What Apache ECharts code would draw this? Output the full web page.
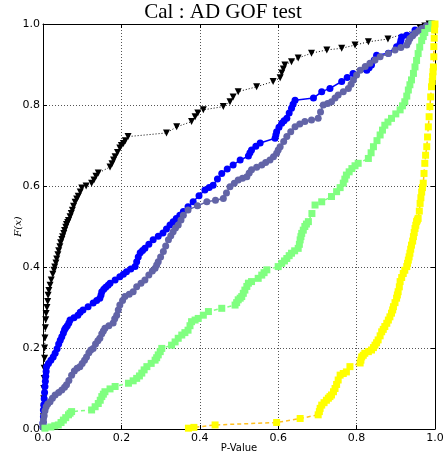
<!DOCTYPE html>
<html><head><meta charset="utf-8">
<script src="https://cdn.jsdelivr.net/npm/echarts@6/dist/echarts.min.js"></script>
<style>html,body{margin:0;padding:0;background:#fff}#c{width:446px;height:454px}</style>
</head><body><div id="c"></div>
<script>
var ticks = [0.0, 0.2, 0.4, 0.6, 0.8, 1.0];
var blackX = [0.000,0.001,0.001,0.002,0.002,0.002,0.003,0.003,0.004,0.004,0.005,0.006,0.007,0.008,0.010,0.012,0.013,0.015,0.018,0.021,0.025,0.028,0.030,0.033,0.035,0.038,0.040,0.043,0.045,0.048,0.050,0.053,0.055,0.058,0.060,0.063,0.065,0.069,0.072,0.075,0.078,0.082,0.086,0.090,0.095,0.099,0.110,0.124,0.130,0.135,0.141,0.171,0.176,0.180,0.184,0.190,0.196,0.200,0.205,0.210,0.217,0.315,0.341,0.379,0.388,0.395,0.409,0.460,0.477,0.485,0.498,0.545,0.587,0.605,0.609,0.613,0.617,0.634,0.651,0.685,0.724,0.762,0.796,0.830,0.880,0.962,0.974,0.985];
var blackY = [0.003,0.010,0.030,0.050,0.075,0.100,0.125,0.150,0.175,0.200,0.225,0.250,0.270,0.285,0.300,0.315,0.330,0.342,0.355,0.368,0.382,0.392,0.400,0.410,0.420,0.430,0.440,0.450,0.460,0.468,0.475,0.483,0.490,0.498,0.505,0.510,0.515,0.524,0.532,0.540,0.550,0.560,0.568,0.575,0.585,0.595,0.600,0.607,0.615,0.624,0.632,0.647,0.655,0.664,0.672,0.683,0.694,0.700,0.705,0.712,0.722,0.731,0.746,0.759,0.771,0.780,0.788,0.796,0.808,0.820,0.833,0.845,0.858,0.867,0.879,0.889,0.899,0.907,0.916,0.928,0.936,0.940,0.948,0.956,0.963,0.990,0.995,1.000];
var blueX = [0.000,0.000,0.001,0.001,0.002,0.003,0.004,0.005,0.006,0.007,0.008,0.009,0.014,0.020,0.026,0.031,0.036,0.040,0.044,0.048,0.052,0.055,0.058,0.062,0.066,0.069,0.079,0.089,0.095,0.102,0.115,0.128,0.137,0.145,0.148,0.150,0.155,0.160,0.166,0.171,0.184,0.196,0.205,0.213,0.224,0.235,0.239,0.243,0.248,0.254,0.260,0.270,0.281,0.294,0.306,0.315,0.324,0.332,0.340,0.349,0.358,0.370,0.383,0.398,0.413,0.424,0.434,0.445,0.456,0.470,0.485,0.503,0.524,0.528,0.532,0.543,0.554,0.592,0.594,0.596,0.602,0.609,0.615,0.622,0.628,0.634,0.638,0.643,0.690,0.711,0.732,0.762,0.776,0.791,0.826,0.832,0.838,0.845,0.851,0.881,0.902,0.911,0.913,0.915,0.928,0.949,0.982,0.995];
var blueY = [0.005,0.015,0.030,0.047,0.060,0.075,0.090,0.105,0.118,0.130,0.142,0.154,0.162,0.170,0.178,0.187,0.198,0.210,0.219,0.228,0.237,0.245,0.250,0.255,0.262,0.269,0.275,0.281,0.288,0.294,0.302,0.311,0.317,0.323,0.331,0.339,0.345,0.350,0.355,0.360,0.368,0.376,0.382,0.388,0.395,0.401,0.413,0.425,0.435,0.441,0.446,0.456,0.467,0.476,0.484,0.494,0.504,0.512,0.520,0.528,0.537,0.549,0.561,0.576,0.590,0.596,0.602,0.617,0.631,0.642,0.652,0.664,0.674,0.682,0.689,0.698,0.706,0.718,0.726,0.734,0.745,0.755,0.761,0.767,0.780,0.792,0.802,0.812,0.817,0.833,0.841,0.858,0.868,0.878,0.886,0.892,0.899,0.911,0.923,0.928,0.944,0.952,0.960,0.968,0.972,0.985,0.993,1.000];
var slateX = [0.000,0.000,0.001,0.003,0.005,0.008,0.012,0.018,0.024,0.031,0.040,0.048,0.055,0.060,0.066,0.073,0.080,0.087,0.094,0.100,0.106,0.111,0.117,0.122,0.128,0.134,0.140,0.145,0.150,0.154,0.158,0.168,0.179,0.183,0.188,0.192,0.196,0.203,0.209,0.220,0.230,0.239,0.250,0.260,0.270,0.279,0.286,0.290,0.294,0.300,0.307,0.313,0.320,0.326,0.332,0.338,0.345,0.352,0.358,0.370,0.394,0.418,0.440,0.460,0.468,0.477,0.488,0.498,0.509,0.520,0.526,0.532,0.545,0.558,0.568,0.579,0.588,0.596,0.600,0.605,0.614,0.622,0.632,0.643,0.655,0.668,0.685,0.702,0.708,0.715,0.726,0.736,0.745,0.753,0.766,0.779,0.786,0.792,0.800,0.809,0.822,0.834,0.847,0.860,0.881,0.898,0.913,0.928,0.932,0.936,0.943,0.949,0.958,0.966,0.978,0.990];
var slateY = [0.005,0.015,0.022,0.033,0.045,0.055,0.062,0.067,0.076,0.084,0.090,0.096,0.103,0.109,0.120,0.133,0.143,0.150,0.154,0.162,0.170,0.178,0.188,0.195,0.199,0.210,0.218,0.224,0.235,0.242,0.249,0.255,0.262,0.272,0.281,0.294,0.306,0.317,0.327,0.333,0.339,0.351,0.360,0.368,0.380,0.390,0.397,0.405,0.413,0.425,0.438,0.452,0.467,0.477,0.487,0.496,0.504,0.516,0.528,0.541,0.551,0.561,0.565,0.569,0.583,0.598,0.607,0.615,0.619,0.623,0.632,0.640,0.646,0.652,0.658,0.664,0.672,0.681,0.689,0.697,0.710,0.722,0.734,0.746,0.753,0.759,0.763,0.767,0.783,0.800,0.804,0.808,0.817,0.825,0.833,0.841,0.851,0.862,0.874,0.886,0.895,0.903,0.911,0.919,0.927,0.936,0.942,0.948,0.956,0.964,0.971,0.977,0.983,0.989,0.995,1.000];
var greenX = [0.005,0.020,0.030,0.039,0.046,0.052,0.058,0.065,0.069,0.073,0.124,0.133,0.141,0.146,0.150,0.154,0.158,0.171,0.184,0.218,0.230,0.239,0.246,0.252,0.258,0.265,0.276,0.286,0.290,0.294,0.299,0.303,0.328,0.337,0.345,0.354,0.362,0.370,0.375,0.379,0.388,0.396,0.409,0.422,0.456,0.490,0.494,0.498,0.503,0.507,0.511,0.515,0.520,0.524,0.532,0.549,0.558,0.564,0.571,0.600,0.609,0.616,0.622,0.628,0.634,0.642,0.651,0.654,0.656,0.658,0.660,0.664,0.668,0.672,0.677,0.686,0.694,0.711,0.736,0.749,0.758,0.766,0.770,0.774,0.781,0.788,0.796,0.804,0.830,0.837,0.843,0.852,0.860,0.866,0.872,0.880,0.889,0.900,0.911,0.917,0.923,0.928,0.932,0.936,0.940,0.945,0.949,0.953,0.957,0.961,0.966,0.970,0.974,0.983,0.992];
var greenY = [0.002,0.005,0.008,0.010,0.016,0.022,0.028,0.035,0.039,0.043,0.047,0.055,0.063,0.071,0.080,0.086,0.092,0.099,0.105,0.113,0.119,0.125,0.131,0.138,0.146,0.154,0.162,0.170,0.176,0.183,0.191,0.199,0.207,0.215,0.224,0.232,0.238,0.244,0.255,0.265,0.269,0.273,0.281,0.290,0.298,0.306,0.312,0.319,0.323,0.327,0.335,0.343,0.352,0.360,0.364,0.372,0.380,0.386,0.393,0.401,0.409,0.415,0.421,0.428,0.434,0.440,0.446,0.456,0.467,0.475,0.483,0.491,0.500,0.506,0.512,0.532,0.553,0.561,0.574,0.586,0.596,0.607,0.617,0.627,0.635,0.643,0.650,0.656,0.668,0.682,0.697,0.712,0.726,0.738,0.750,0.758,0.767,0.778,0.788,0.798,0.808,0.822,0.837,0.850,0.862,0.878,0.894,0.910,0.927,0.943,0.959,0.969,0.979,0.989,1.000];
var yellowX = [0.371,0.385,0.439,0.596,0.656,0.702,0.705,0.707,0.711,0.717,0.723,0.728,0.732,0.736,0.741,0.745,0.749,0.753,0.758,0.766,0.774,0.783,0.809,0.811,0.813,0.817,0.821,0.830,0.838,0.843,0.847,0.851,0.855,0.860,0.864,0.868,0.872,0.877,0.881,0.885,0.889,0.892,0.894,0.898,0.902,0.904,0.906,0.909,0.911,0.915,0.919,0.923,0.928,0.930,0.932,0.934,0.936,0.938,0.940,0.943,0.945,0.947,0.949,0.951,0.953,0.955,0.957,0.960,0.962,0.964,0.966,0.968,0.970,0.972,0.974,0.976,0.979,0.981,0.983,0.985,0.987,0.989,0.991,0.993,0.994,0.995,0.996,0.997,0.997,0.998,0.999,1.000];
var yellowY = [0.002,0.004,0.010,0.016,0.026,0.035,0.043,0.051,0.059,0.065,0.071,0.076,0.080,0.084,0.092,0.100,0.110,0.121,0.133,0.137,0.141,0.154,0.163,0.170,0.178,0.182,0.187,0.191,0.195,0.201,0.207,0.213,0.220,0.230,0.240,0.246,0.253,0.261,0.269,0.277,0.286,0.294,0.302,0.312,0.323,0.331,0.339,0.351,0.364,0.374,0.384,0.392,0.401,0.409,0.417,0.425,0.434,0.444,0.454,0.464,0.475,0.485,0.495,0.503,0.512,0.516,0.520,0.538,0.557,0.571,0.585,0.596,0.607,0.631,0.656,0.676,0.697,0.721,0.746,0.771,0.796,0.820,0.845,0.858,0.870,0.882,0.894,0.919,0.944,0.965,0.985,1.000];

function pairs(xs, ys){ return xs.map(function(x,i){ return [x, ys[i]]; }); }

var chart = echarts.init(document.getElementById('c'), null, {renderer:'canvas'});
var lab = {fontFamily:'DejaVu Sans', fontSize:11, color:'#000'};
function axisBase(extra){
  var o = {type:'value', min:0, max:1, interval:0.2,
    axisLine:{show:true, onZero:false, lineStyle:{color:'#000', width:1}},
    axisTick:{show:true, inside:true, length:4, lineStyle:{color:'#000'}},
    splitLine:{show:false}};
  for (var k in extra) o[k] = extra[k];
  return o;
}
chart.setOption({
  animation:false,
  backgroundColor:'#fff',
  title:{text:'Cal : AD GOF test', left:'center', top:2, padding:0,
    textStyle:{fontFamily:'Liberation Serif', fontSize:21, fontWeight:'normal', color:'#000'}},
  grid:{left:43, right:11, top:24, bottom:25, show:false, containLabel:false, outerBoundsMode:'none'},
  xAxis:[
    axisBase({position:'bottom', name:'P-Value', nameLocation:'middle', nameGap:14, nameMoveOverlap:false,
      nameTextStyle:{fontFamily:'DejaVu Sans', fontSize:10, color:'#000', verticalAlign:'top'},
      axisLabel:Object.assign({margin:4, formatter:function(v){return v.toFixed(1);}}, lab),
      splitLine:{show:true, lineStyle:{color:'#555', type:[1,2], width:1}}}),
    axisBase({position:'top', axisLabel:{show:false}})
  ],
  yAxis:[
    axisBase({position:'left', name:'F(x)', nameLocation:'middle', nameGap:20, nameMoveOverlap:false,
      nameTextStyle:{fontFamily:'DejaVu Serif', fontStyle:'italic', fontSize:10, color:'#000'},
      axisLabel:Object.assign({margin:3, formatter:function(v){return v.toFixed(1);}}, lab),
      splitLine:{show:true, lineStyle:{color:'#555', type:[1,2], width:1}}}),
    axisBase({position:'right', axisLabel:{show:false}})
  ],
  series:[
    {type:'line', data:pairs(blackX, blackY), symbol:'triangle', symbolRotate:180, symbolSize:7,
      itemStyle:{color:'#000'}, lineStyle:{color:'#000', width:1, type:[1,2]}},
    {type:'line', data:pairs(blueX, blueY), symbol:'circle', symbolSize:7,
      itemStyle:{color:'#0000ff'}, lineStyle:{color:'#0000ff', width:1.5}},
    {type:'line', data:pairs(slateX, slateY), symbol:'circle', symbolSize:7,
      itemStyle:{color:'#6264a7'}, lineStyle:{color:'#6264a7', width:1.5}},
    {type:'line', data:pairs(greenX, greenY), symbol:'rect', symbolSize:7,
      itemStyle:{color:'#80ff80'}, lineStyle:{color:'#80ff80', width:1.5, type:[4,3]}},
    {type:'line', data:pairs(yellowX, yellowY), symbol:'rect', symbolSize:7,
      itemStyle:{color:'#ffff00'}, lineStyle:{color:'#ffc020', width:1.5, type:[4,3]}}
  ]
});
</script></body></html>
